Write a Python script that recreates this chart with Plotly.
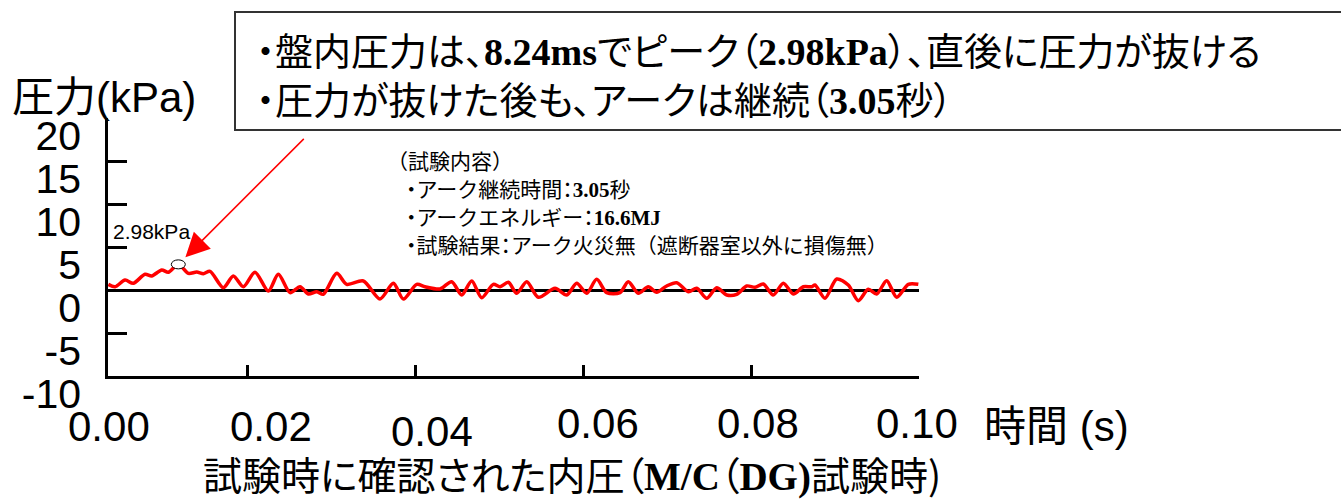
import plotly.graph_objects as go

# ---------------- data ----------------
time_s = [0.00349, 0.00429, 0.00548, 0.00646, 0.00786, 0.00865, 0.00985, 0.01063, 0.01182,
          0.01301, 0.01401, 0.0148, 0.0156, 0.01718, 0.01837, 0.01956, 0.02095, 0.02254,
          0.02373, 0.02512, 0.02631, 0.0273, 0.0283, 0.02908, 0.03068, 0.03187, 0.03385,
          0.03583, 0.03742, 0.03861, 0.0402, 0.04119, 0.04298, 0.04437, 0.04556, 0.04675,
          0.04794, 0.04932, 0.05012, 0.05111, 0.05211, 0.0533, 0.05468, 0.05667, 0.05806,
          0.05925, 0.06044, 0.06163, 0.06282, 0.0644, 0.06539, 0.06658, 0.06777, 0.06877,
          0.06996, 0.07115, 0.07254, 0.07354, 0.07473, 0.07592, 0.07711, 0.0783, 0.07949,
          0.08048, 0.08146, 0.08265, 0.08385, 0.08504, 0.08623, 0.08723, 0.08762, 0.08881,
          0.0902, 0.09158, 0.09277, 0.09396, 0.09496, 0.09615, 0.09735, 0.09873, 0.09992]
pressure_kpa = [0.66, 0.38, 1.16, 0.78, 1.83, 1.63, 2.33, 2.06, 2.98,
                1.94, 2.09, 1.90, 2.17, 0.27, 1.63, 0.38, 2.06, -0.12,
                1.83, -0.31, 0.38, -0.47, -0.20, -0.50, 1.94, 0.66, 1.05,
                -1.05, 0.78, -1.05, 0.66, 0.38, 0.12, 0.97, -0.58, 1.05,
                -0.90, 0.66, 0.38, 0.90, -0.38, 0.97, -0.85, 0.20, -0.58,
                0.78, -0.38, 1.24, -0.31, -0.31, 0.97, -0.38, 0.38, -0.27,
                0.47, 0.85, -0.20, 0.20, -0.97, 0.27, -0.58, -0.50, 0.47,
                0.31, 0.70, -0.58, 0.78, -0.47, 0.38, 0.38, 0.58, -0.97,
                1.28, 0.58, -1.24, 0.08, -0.47, 1.08, -0.85, 0.66, 0.66]
peak_time = 0.01182
peak_kpa = 2.98

y_ticks = [-10, -5, 0, 5, 10, 15, 20]
y_tick_text = ["-10", "-5", "0", "5", "10", "15", "20"]
x_ticks = [0.02, 0.04, 0.06, 0.08, 0.10]
x_range = [0.00345, 0.10]
x_label_vals = [0.00345, 0.02, 0.04, 0.06, 0.08, 0.10]
x_label_text = ["0.00", "0.02", "0.04", "0.06", "0.08", "0.10"]

PALT = "<span style=\"font-feature-settings:'palt'\">{}</span>"
B = "<span style=\"font-family:'Liberation Serif';font-weight:bold\">{}</span>"

y_title = "圧力(kPa)"
x_title = "時間 (s)"
bottom_title = PALT.format("試験時に確認された内圧（" + B.format("M/C") + "（" + B.format("DG)") + "試験時)")
peak_label = "2.98kPa"

box_lines = [
    PALT.format("・盤内圧力は、" + B.format("8.24ms") + "でピーク（" + B.format("2.98kPa") + "）、直後に圧力が抜ける"),
    PALT.format("・圧力が抜けた後も、アークは継続（" + B.format("3.05") + "秒）"),
]
info_lines = [
    "（試験内容）",
    PALT.format("・") + "アーク継続時間" + PALT.format("：") + B.format("3.05") + "秒",
    PALT.format("・") + "アークエネルギー" + PALT.format("：") + B.format("16.6MJ"),
    PALT.format("・") + "試験結果" + PALT.format("：") + "アーク火災無（遮断器室以外に損傷無）",
]

# ---------------- layout helpers ----------------
W, H = 1341, 499
L, R, T, Bm = 108, 919, 118, 376


def px(x):
    return (x - L) / (R - L)


def py(y):
    return (Bm - y) / (Bm - T)


SANS = "Liberation Sans, Arial, Noto Sans CJK JP, sans-serif"
CJK = "Noto Sans CJK JP, Liberation Sans, sans-serif"

fig = go.Figure()
fig.add_trace(go.Scatter(
    x=time_s, y=pressure_kpa, mode="lines",
    line=dict(color="#ff0000", width=3.5, shape="spline", smoothing=0.8),
    hoverinfo="skip", showlegend=False,
))

annotations = []
# x tick labels (staggered as in the original)
x_shift = [1, 24, 17, 15, 7, -2]
y_pos = [426, 426, 431, 424, 424, 424]
for v, t, dx, yp in zip(x_label_vals, x_label_text, x_shift, y_pos):
    annotations.append(dict(x=v, xref="x", y=py(yp), yref="paper", text=t, showarrow=False,
                            xanchor="center", yanchor="middle", xshift=dx,
                            font=dict(family=SANS, size=42, color="black")))
annotations.append(dict(x=px(1056), xref="paper", y=py(426), yref="paper", text=x_title,
                        showarrow=False, xanchor="center", yanchor="middle",
                        font=dict(family=SANS, size=42, color="black")))
annotations.append(dict(x=px(104), xref="paper", y=py(97), yref="paper", text=y_title,
                        showarrow=False, xanchor="center", yanchor="middle",
                        font=dict(family=SANS, size=42, color="black")))
annotations.append(dict(x=px(572), xref="paper", y=py(473), yref="paper", text=bottom_title,
                        showarrow=False, xanchor="center", yanchor="middle",
                        font=dict(family=CJK, size=39, color="black")))
# box lines
for text, yc in zip(box_lines, [49, 97]):
    annotations.append(dict(x=px(254), xref="paper", y=py(yc), yref="paper", text=text,
                            showarrow=False, xanchor="left", yanchor="middle",
                            font=dict(family=CJK, size=38, color="black")))
# info lines
for text, yc, xl in zip(info_lines, [160, 188, 216, 244], [385, 404, 404, 404]):
    annotations.append(dict(x=px(xl), xref="paper", y=py(yc), yref="paper", text=text,
                            showarrow=False, xanchor="left", yanchor="middle",
                            font=dict(family=CJK, size=21, color="black")))
# peak label
annotations.append(dict(x=peak_time, y=peak_kpa, xref="x", yref="y", text=peak_label,
                        showarrow=False, xanchor="center", yanchor="middle",
                        xshift=-27, yshift=33,
                        font=dict(family="Liberation Sans, Arial, sans-serif", size=21, color="black")))
# arrow from box to peak
annotations.append(dict(x=peak_time, y=peak_kpa, xref="x", yref="y", text="",
                        showarrow=True, arrowhead=2, arrowsize=3.2, arrowwidth=1.5,
                        arrowcolor="#ff0000", ax=127, ay=-127, standoff=10))

shapes = [
    dict(type="rect", xref="paper", yref="paper", x0=px(235), x1=px(1350), y0=py(130), y1=py(12),
         line=dict(color="#333333", width=2), fillcolor="white", layer="below"),
    dict(type="circle", xref="x", yref="y", xsizemode="pixel", ysizemode="pixel",
         xanchor=peak_time, yanchor=peak_kpa, x0=-7, x1=7, y0=-4.5, y1=4.5,
         line=dict(color="black", width=1), fillcolor="white", layer="above"),
]

fig.update_layout(
    width=W, height=H,
    margin=dict(l=L, r=W - R, t=T, b=H - Bm, pad=0, autoexpand=False),
    paper_bgcolor="white", plot_bgcolor="white",
    annotations=annotations, shapes=shapes,
    xaxis=dict(range=x_range, tickvals=x_ticks, ticks="inside", ticklen=11, tickwidth=2.5,
               tickcolor="black", showticklabels=False, showline=True, linewidth=2.5,
               linecolor="black", showgrid=False, zeroline=False, fixedrange=True,
               automargin=False),
    yaxis=dict(range=[-10, 20], tickvals=y_ticks, ticktext=y_tick_text, ticks="inside",
               ticklen=19, tickwidth=2.5,
               tickcolor="black", showline=True, linewidth=2.5, linecolor="black",
               showgrid=False, zeroline=True, zerolinecolor="black", zerolinewidth=2.5,
               tickfont=dict(family=SANS, size=41, color="black"),
               ticklabelshift=18, ticklabelstandoff=16, fixedrange=True, automargin=False),
)

fig.write_html("out.html", config={"displayModeBar": False},
               post_script="document.body.style.margin='0';document.body.style.overflow='hidden';")
